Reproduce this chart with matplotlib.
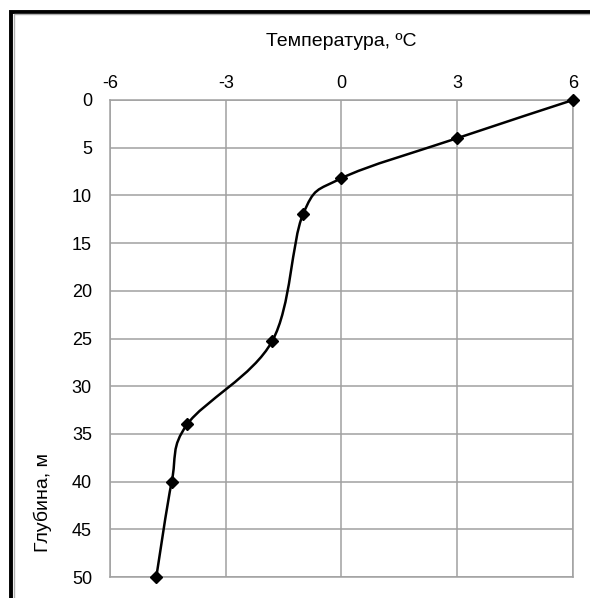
import numpy as np
import matplotlib
matplotlib.use("Agg")
import matplotlib.pyplot as plt
from matplotlib.path import Path
from matplotlib.patches import PathPatch, Rectangle

# temperature profile in the borehole
temp = [6, 3, 0, -1, -1.8, -4, -4.4, -4.8]
depth = [0, 4, 8.2, 12, 25.3, 34, 40, 50]
xticks = [-6, -3, 0, 3, 6]
yticks = [0, 5, 10, 15, 20, 25, 30, 35, 40, 45, 50]

plt.rcParams['font.family'] = ['Liberation Sans', 'DejaVu Sans']

fig = plt.figure(figsize=(5.9, 5.98), dpi=100)
ax = fig.add_axes([110/590, 21/598, 463/590, 477/598])

# smoothed line, bezier segments like a spreadsheet "smooth line"
pts = np.column_stack([temp, depth])
verts = [pts[0]]
codes = [Path.MOVETO]
n = len(pts)
for i in range(n - 1):
    p0 = pts[max(i - 1, 0)]
    p1 = pts[i]
    p2 = pts[i + 1]
    p3 = pts[min(i + 2, n - 1)]
    c1 = p1 + (p2 - p0) / 6
    c2 = p2 - (p3 - p1) / 6
    verts += [c1, c2, p2]
    codes += [Path.CURVE4] * 3
ax.add_patch(PathPatch(Path(verts, codes), fill=False, ec='black', lw=1.8,
                       zorder=3, clip_on=False))
ax.plot(temp, depth, ls='none', marker='D', ms=6.5, color='black', zorder=4,
        clip_on=False)

ax.set_xlim(-6, 6)
ax.set_ylim(50, 0)
ax.set_xticks(xticks)
ax.set_yticks(yticks)
ax.set_xticklabels([str(t) for t in xticks])
ax.xaxis.tick_top()
ax.tick_params(length=0, labelsize=13, colors='black')
ax.tick_params(axis='x', pad=6)
ax.tick_params(axis='y', pad=13)
ax.grid(True, color='#a0a0a0', lw=1.1)
ax.set_axisbelow(True)
for s in ax.spines.values():
    s.set_color('#a0a0a0')
    s.set_linewidth(1.1)

fig.text(341/590, 1 - 42/598, 'Температура, ºС', ha='center', va='center',
         fontsize=14)
fig.text(43/590, 1 - 502/598, 'Глубина, м', ha='center', va='center',
         rotation=90, fontsize=14)

# page frame around the chart
fig.patches.append(Rectangle((11/590, -0.1), 1.0, 1 - 11.5/598 + 0.1,
                             transform=fig.transFigure, fill=False,
                             ec='black', lw=2.8))
fig.patches.append(Rectangle((14/590, -0.1), 1.0, 1 - 14.5/598 + 0.1,
                             transform=fig.transFigure, fill=False,
                             ec='#b0b0b0', lw=1.0))

fig.savefig('out.png', dpi=100)
